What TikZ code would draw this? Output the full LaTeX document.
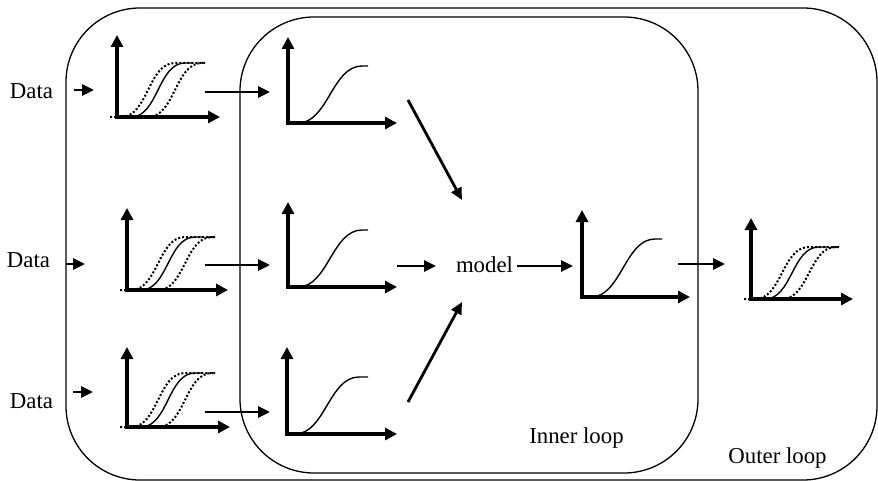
\documentclass[tikz,border=0pt]{standalone}
\usepackage{fontspec}
\setmainfont{Liberation Serif}
\usetikzlibrary{arrows.meta}
\newcommand{\grax}[4]{%
  \draw[axis] (#1,#2) -- (#1,#3);
  \draw[axis] (#1,#2) -- (#4,#2);}
\newcommand{\sgl}[5]{%
  \begin{scope}[shift={(#1,#2)}]
    \draw[curve] (#4-32,0) .. controls (#4-2,0) and (#4+2,-#3) .. (#4+32,-#3) -- (#5,-#3);
  \end{scope}}
\newcommand{\mlt}[3]{%
  \begin{scope}[shift={(#1,#2)}]
    \draw[dcurve] (-7,0) -- (4,0) .. controls (31,0) and (31,-#3) .. (58,-#3) -- (88,-#3);
    \draw[curve] (14,0) .. controls (41,0) and (41,-#3) .. (68,-#3) -- (76,-#3);
    \draw[dcurve] (31,0) .. controls (58,0) and (58,-#3) .. (85,-#3) -- (88,-#3);
  \end{scope}}
\begin{document}
\begin{tikzpicture}[x=0.5pt,y=-0.5pt,
  box/.style={line width=0.65pt, rounded corners=37pt},
  axis/.style={line width=1.6pt, line cap=rect, -{Triangle[length=6pt,width=6pt]}},
  flow/.style={line width=1.4pt, -{Triangle[length=6pt,width=5.5pt]}},
  curve/.style={line width=0.7pt},
  dcurve/.style={line width=1pt, densely dotted},
  lbl/.style={font=\fontsize{11.4}{13}\selectfont, inner sep=0pt, anchor=base}]
\useasboundingbox (0,0) rectangle (878,481);

% loops
\draw[box] (66,8) rectangle (877,480);
\draw[box] (240,17) rectangle (698,473);

% labels
\node[lbl] (data1) at (31.5,98) {Data};
\node[lbl] (data2) at (28.5,267) {Data};
\node[lbl] (data3) at (31.5,408) {Data};
\node[lbl] (model) at (484.5,272) {model};
\node[lbl] (inner) at (576.5,443) {Inner loop};
\node[lbl] (outer) at (777.5,463) {Outer loop};

% graphs: multi-curve inputs
\grax{117}{117}{35}{220}  \mlt{117}{117}{54}
\grax{127}{290}{208}{228} \mlt{127}{290}{53}
\grax{127}{427}{347}{230} \mlt{127}{427}{54}
% single-curve graphs
\grax{288}{123}{37}{397}  \sgl{288}{123}{57}{42}{80}
\grax{288}{287}{202}{397} \sgl{288}{287}{57}{42}{80}
\grax{287}{434}{347}{397} \sgl{287}{434}{57}{40}{81}
\grax{582}{297}{210}{690} \sgl{582}{297}{58}{41}{80}
% outer result
\grax{751}{299}{218}{853} \mlt{751}{299}{52}

% connector end points
\coordinate (d1s) at (74,90);   \coordinate (d1e) at (94,90);
\coordinate (d2s) at (66,264);  \coordinate (d2e) at (85,264);
\coordinate (d3s) at (73,392);  \coordinate (d3e) at (93,392);
\coordinate (g1o) at (205,92);  \coordinate (a1i) at (270,92);
\coordinate (g2o) at (205,265); \coordinate (a2i) at (270,265);
\coordinate (g3o) at (205,412); \coordinate (a3i) at (270,412);
\coordinate (a1o) at (408,100); \coordinate (m1) at (462,200);
\coordinate (a2o) at (397,266); \coordinate (m2) at (436,266);
\coordinate (a3o) at (408,402); \coordinate (m3) at (462,302);
\coordinate (mo)  at (517,266); \coordinate (di) at (573,266);
\coordinate (do)  at (678,264); \coordinate (ei) at (725,264);

\draw[flow] (d1s) -- (d1e);
\draw[flow] (d2s) -- (d2e);
\draw[flow] (d3s) -- (d3e);
\draw[flow] (g1o) -- (a1i);
\draw[flow] (g2o) -- (a2i);
\draw[flow] (g3o) -- (a3i);
\draw[flow] (a1o) -- (m1);
\draw[flow] (a2o) -- (m2);
\draw[flow] (a3o) -- (m3);
\draw[flow] (mo) -- (di);
\draw[flow] (do) -- (ei);
\end{tikzpicture}
\end{document}
